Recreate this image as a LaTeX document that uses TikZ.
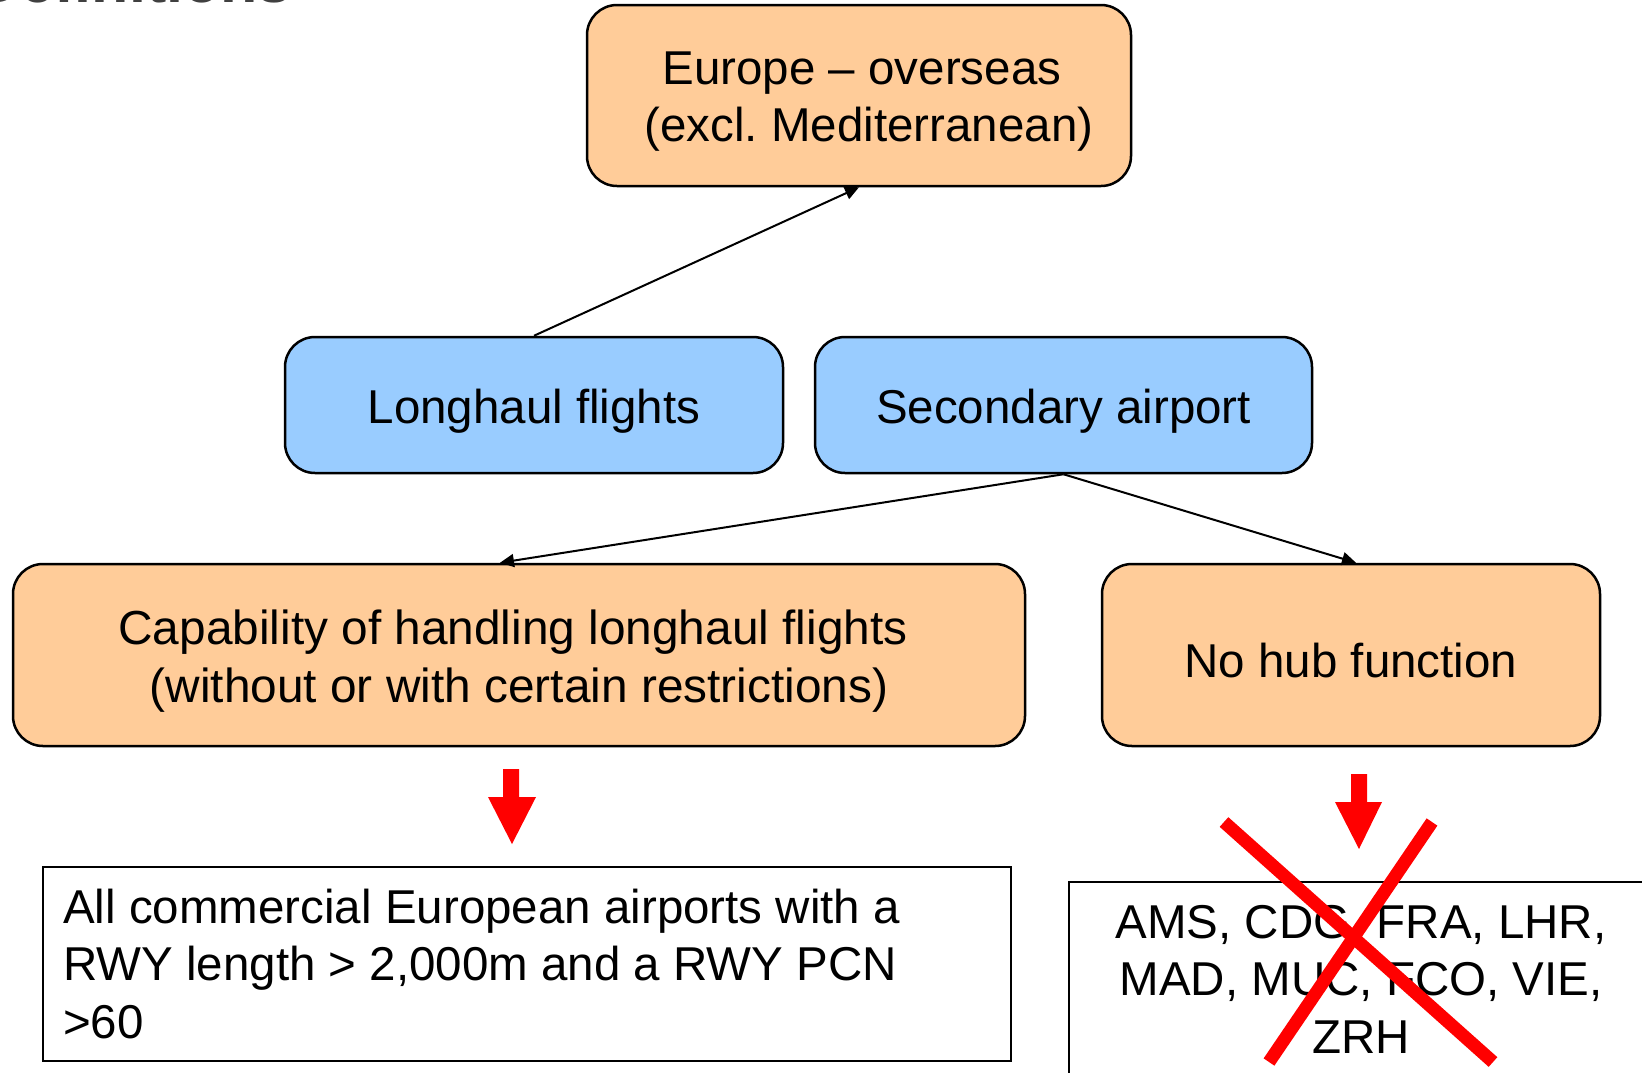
\documentclass[tikz,border=0pt]{standalone}
\usepackage{fontspec}
\setmainfont{Liberation Sans}
\usetikzlibrary{arrows.meta}
\definecolor{boxorange}{HTML}{FFCC99}
\definecolor{boxblue}{HTML}{99CCFF}
\definecolor{titlegray}{HTML}{404040}
\begin{document}
\frenchspacing
\begin{tikzpicture}[x=1pt,y=-1pt,
  rbox/.style={draw=black, line width=2.5pt, rounded corners=30pt, inner sep=0pt},
  orangebox/.style={rbox, fill=boxorange},
  bluebox/.style={rbox, fill=boxblue},
  plainbox/.style={draw=black, line width=2.5pt, inner sep=0pt},
  txt/.style={inner sep=0pt, align=center, font=\fontsize{47.5}{57.5}\selectfont},
  conn/.style={line width=2pt, -{Triangle[length=14pt,width=13pt]}},
  redarrow/.style={fill=red, draw=none},
  cross/.style={draw=red, line width=13pt}
]
\useasboundingbox (0,0) rectangle (1642,1072);
\fill[white] (0,0) rectangle (1642,1072);

% partial title at top edge
\node[anchor=base east, inner sep=0pt, text=titlegray,
  font=\fontsize{61}{70}\selectfont\bfseries] (title) at (292,2) {Definitions};

% boxes
\node[orangebox, minimum width=544pt, minimum height=181pt] (top) at (859,95.5) {};
\node[txt] (toptext) at (862,101.5) {Europe -- overseas\\\hspace*{14pt}(excl. Mediterranean)};
\node[bluebox, minimum width=498pt, minimum height=136pt] (lh) at (534,405) {};
\node[txt] (lhtext) at (534,411) {Longhaul flights};
\node[bluebox, minimum width=497pt, minimum height=136pt] (sec) at (1063.5,405) {};
\node[txt] (sectext) at (1063.5,411) {Secondary airport};
\node[orangebox, minimum width=1012pt, minimum height=182pt] (cap) at (519,655) {};
\node[txt, font=\fontsize{47.8}{57.5}\selectfont] (captext) at (519,661)
  {Capability of handling longhaul flights\hspace*{12pt}\\(without or with certain restrictions)};
\node[orangebox, minimum width=498pt, minimum height=182pt] (nohub) at (1351,655) {};
\node[txt] (nohubtext) at (1351,661) {No hub function};

% result boxes
\node[plainbox, minimum width=968pt, minimum height=194pt] (allbox) at (527,964) {};
\node[txt, anchor=west, align=left] (alltext) at (63,964)
  {All commercial European airports with a\\RWY length > 2,000m and a RWY PCN\\>60};
\draw[line width=2.5pt] (1069,1100) -- (1069,882) -- (1700,882);
\coordinate (hubboxnw) at (1069,882);
\node[txt] (hubtext) at (1361,979)
  {AMS, CDG, FRA, LHR,\\MAD, MUC, FCO, VIE,\\ZRH};

% connectors
\draw[conn] (lh.north) -- (top.south);
\draw[conn] (sec.south) -- ([xshift=-19pt]cap.north);
\draw[conn] (sec.south) -- ([xshift=5pt]nohub.north);

% red block arrows
\fill[redarrow] (503,769) -- (519,769) -- (519,797) -- (536,797) -- (512,844)
  -- (488,797) -- (503,797) -- cycle;
\fill[redarrow] (1351,774) -- (1367,774) -- (1367,802) -- (1382,802) -- (1359,849)
  -- (1335,802) -- (1351,802) -- cycle;

% red cross
\coordinate (x1a) at (1224,822);
\coordinate (x1b) at (1493,1062);
\coordinate (x2a) at (1432,822);
\coordinate (x2b) at (1269,1062);
\draw[cross] (x1a) -- (x1b);
\draw[cross] (x2a) -- (x2b);
\end{tikzpicture}
\end{document}
